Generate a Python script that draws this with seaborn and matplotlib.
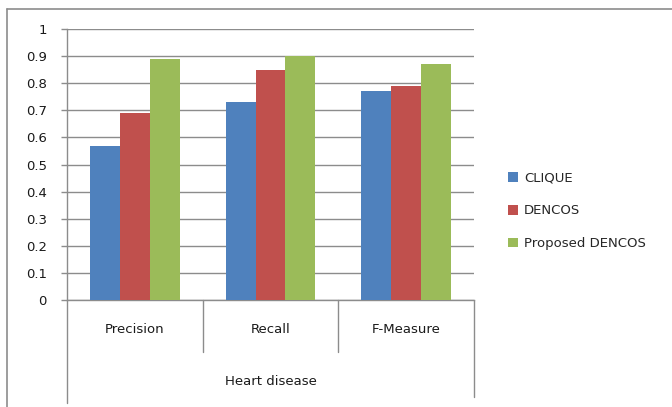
import matplotlib
matplotlib.use("Agg")
import matplotlib.pyplot as plt
from matplotlib.patches import Patch
from matplotlib.lines import Line2D
import seaborn as sns
import pandas as pd

# Scores per measure for each clustering method
measures = ["Precision", "Recall", "F-Measure"]
methods = ["CLIQUE", "DENCOS", "Proposed DENCOS"]
clique = [0.57, 0.73, 0.77]
dencos = [0.69, 0.85, 0.79]
proposed = [0.89, 0.90, 0.87]
group_label = "Heart disease"
y_ticks = [0, 0.1, 0.2, 0.3, 0.4, 0.5, 0.6, 0.7, 0.8, 0.9, 1.0]
y_tick_labels = ["0", "0.1", "0.2", "0.3", "0.4", "0.5", "0.6", "0.7", "0.8", "0.9", "1"]

colors = ["#4F81BD", "#C0504D", "#9BBB59"]
line_grey = "#8c8c8c"
text_color = "#1a1a1a"
fs = 9.5

rows = []
for method, vals in zip(methods, [clique, dencos, proposed]):
    for m, v in zip(measures, vals):
        rows.append({"Measure": m, "Method": method, "Score": v})
df = pd.DataFrame(rows)

sns.set_style("white")
plt.rcParams["font.family"] = ["DejaVu Sans"]

W, H = 672, 407
fig = plt.figure(figsize=(W / 100, H / 100), dpi=100)
x0, x1, y_top, y_bot = 67, 474, 29, 300
ax = fig.add_axes([x0 / W, (H - y_bot) / H, (x1 - x0) / W, (y_bot - y_top) / H])

sns.barplot(data=df, x="Measure", y="Score", hue="Method", order=measures,
            hue_order=methods, palette=colors, width=0.663, linewidth=0,
            saturation=1, ax=ax, legend=False, zorder=3)

ax.set_ylim(0, 1)
ax.set_xlim(-0.5, 2.5)
ax.set_yticks(y_ticks)
ax.set_yticklabels(y_tick_labels, fontsize=fs, color=text_color)
ax.yaxis.grid(True, color=line_grey, linewidth=1)
ax.set_axisbelow(True)
ax.tick_params(axis="y", length=4.5, width=1, color=line_grey, pad=10, left=True)
ax.tick_params(axis="x", length=0, labelbottom=False)
ax.set_xlabel("")
ax.set_ylabel("")
for s in ["top", "right"]:
    ax.spines[s].set_visible(False)
for s in ["left", "bottom"]:
    ax.spines[s].set_color(line_grey)
    ax.spines[s].set_linewidth(1)

# Category axis: separators, labels and the outer group label
trans = ax.get_xaxis_transform()
for xb in [0.5, 1.5]:
    ax.add_line(Line2D([xb, xb], [0, -0.192], transform=trans, color=line_grey,
                       linewidth=1, clip_on=False))
ax.add_line(Line2D([-0.5, -0.5], [0, -0.38], transform=trans, color=line_grey,
                   linewidth=1, clip_on=False))
ax.add_line(Line2D([2.5, 2.5], [0, -0.358], transform=trans, color=line_grey,
                   linewidth=1, clip_on=False))
for i, m in enumerate(measures):
    ax.text(i, -0.11, m, transform=trans, ha="center", va="center",
            fontsize=fs, color=text_color)
ax.text(1, -0.30, group_label, transform=trans, ha="center", va="center",
        fontsize=fs, color=text_color)

# Legend
handles = [Patch(facecolor=c, edgecolor="none") for c in colors]
fig.legend(handles, methods, loc="center left", bbox_to_anchor=(503 / W, 1 - 211 / H),
           frameon=False, fontsize=fs, handlelength=0.7, handleheight=0.7,
           handletextpad=0.5, labelspacing=1.5, borderaxespad=0)

# Outer chart frame
fig.add_artist(Line2D([7 / W, 7 / W], [0, 1 - 9 / H], transform=fig.transFigure,
                      color=line_grey, linewidth=1.2))
fig.add_artist(Line2D([7 / W, 1], [1 - 9 / H, 1 - 9 / H], transform=fig.transFigure,
                      color=line_grey, linewidth=1.2))

fig.savefig("out.png", dpi=100, facecolor="white")
